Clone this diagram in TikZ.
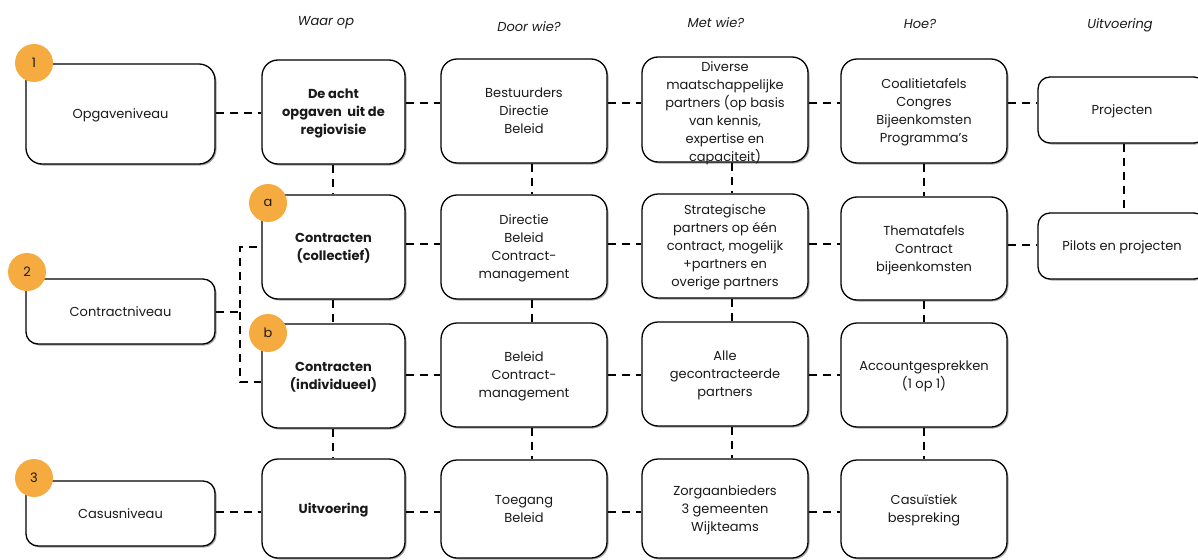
\documentclass[tikz,border=0pt]{standalone}
\usepackage{fontspec}
\setmainfont{Poppins}
\usetikzlibrary{shadows}
\definecolor{badgeor}{HTML}{F5AB3F}
\definecolor{txt}{HTML}{1A1A1A}
\begin{document}
\begin{tikzpicture}[x=1pt,y=-1pt,
  box/.style={draw=black, line width=1.3pt, rounded corners=16pt, fill=white,
    align=center, text=txt, font=\fontsize{13}{18}\selectfont, inner sep=0pt, text depth=0pt,
    drop shadow={shadow xshift=1.5pt, shadow yshift=-1.5pt, opacity=0.35, fill=black}},
  bbox/.style={box, font=\fontsize{13}{18}\selectfont\bfseries},
  conn/.style={draw=black, line width=2pt, dash pattern=on 8pt off 6pt},
  badge/.style={circle, fill=badgeor, minimum size=38pt, inner sep=0pt,
    text=txt, font=\fontsize{13}{16}\selectfont},
  hdr/.style={text=txt, font=\fontsize{13}{16}\selectfont\itshape, inner sep=0pt}]
\useasboundingbox (0,0) rectangle (1198,559);
\clip (0,0) rectangle (1198,559);

% headers
\node[hdr] (h1) at (326,23) {Waar op};
\node[hdr] (h2) at (529,27) {Door wie?};
\node[hdr] (h3) at (716,23) {Met wie?};
\node[hdr] (h4) at (920,24) {Hoe?};
\node[hdr] (h5) at (1120,25) {Uitvoering};

% column 0
\node[box, minimum width=189pt, minimum height=100pt] (op) at (120.5,114) {Opgaveniveau};
\node[box, minimum width=189pt, minimum height=65pt, rounded corners=12pt] (ct) at (120.5,311.5) {Contractniveau};
\node[box, minimum width=189pt, minimum height=65pt, rounded corners=12pt] (cs) at (120.5,513.5) {Casusniveau};

% column 1
\node[bbox, minimum width=143pt, minimum height=104pt] (r1c1) at (333.5,112) {De acht\\opgaven\ \ uit de\\regiovisie};
\node[bbox, minimum width=143pt, minimum height=104pt] (r2c1) at (333.5,247) {Contracten\\(collectief)};
\node[bbox, minimum width=143pt, minimum height=104pt] (r3c1) at (333.5,376) {Contracten\\(individueel)};
\node[bbox, minimum width=143pt, minimum height=99pt] (r4c1) at (333.5,508.5) {Uitvoering};

% column 2
\node[box, minimum width=166pt, minimum height=104pt] (r1c2) at (524,111) {Bestuurders\\Directie\\Beleid};
\node[box, minimum width=166pt, minimum height=104pt] (r2c2) at (524,247) {Directie\\Beleid\\Contract-\\management};
\node[box, minimum width=166pt, minimum height=104pt] (r3c2) at (524,375) {Beleid\\Contract-\\management};
\node[box, minimum width=166pt, minimum height=98pt] (r4c2) at (524,509) {Toegang\\Beleid};

% column 3
\node[box, minimum width=166pt, minimum height=105pt] (r1c3) at (725,109.5) {};
\node[align=center, text=txt, font=\fontsize{13}{18}\selectfont, inner sep=0pt, text depth=0pt] (t13) at (725,112) {Diverse\\maatschappelijke\\partners (op basis\\van kennis,\\expertise en\\capaciteit)};
\node[box, minimum width=166pt, minimum height=104pt] (r2c3) at (725,246) {Strategische\\partners op één\\contract, mogelijk\\+partners en\\overige partners};
\node[box, minimum width=166pt, minimum height=104pt] (r3c3) at (725,374) {Alle\\gecontracteerde\\partners};
\node[box, minimum width=166pt, minimum height=99pt] (r4c3) at (725,508.5) {Zorgaanbieders\\3 gemeenten\\Wijkteams};

% column 4
\node[box, minimum width=166pt, minimum height=104pt] (r1c4) at (924,111) {Coalitietafels\\Congres\\Bijeenkomsten\\Programma’s};
\node[box, minimum width=166pt, minimum height=103pt] (r2c4) at (924,248.5) {Thematafels\\Contract\\bijeenkomsten};
\node[box, minimum width=166pt, minimum height=104pt] (r3c4) at (924,375) {Accountgesprekken\\(1 op 1)};
\node[box, minimum width=166pt, minimum height=98pt] (r4c4) at (924,509) {Casuïstiek\\bespreking};

% column 5
\node[box, minimum width=168pt, minimum height=66pt, rounded corners=12pt] (r1c5) at (1122,110) {Projecten};
\node[box, minimum width=168pt, minimum height=66pt, rounded corners=12pt] (r2c5) at (1122,246) {Pilots en projecten};

% horizontal connectors
\draw[conn] ([yshift=1pt]op.east) -- ([yshift=1pt]op.east -| r1c1.west);
\draw[conn] ([yshift=9pt]r1c1.east) -- ([yshift=9pt]r1c1.east -| r1c2.west);
\draw[conn] ([yshift=8pt]r1c2.east) -- ([yshift=8pt]r1c2.east -| r1c3.west);
\draw[conn] ([yshift=6.5pt]r1c3.east) -- ([yshift=6.5pt]r1c3.east -| r1c4.west);
\draw[conn] ([yshift=8pt]r1c4.east) -- ([yshift=8pt]r1c4.east -| r1c5.west);

\draw[conn] ([yshift=3pt]r2c1.east) -- ([yshift=3pt]r2c1.east -| r2c2.west);
\draw[conn] ([yshift=3pt]r2c2.east) -- ([yshift=3pt]r2c2.east -| r2c3.west);
\draw[conn] ([yshift=2pt]r2c3.east) -- ([yshift=2pt]r2c3.east -| r2c4.west);
\draw[conn] ([yshift=3.5pt]r2c4.east) -- ([yshift=3.5pt]r2c4.east -| r2c5.west);

\draw[conn] ([yshift=1pt]r3c1.east) -- ([yshift=1pt]r3c1.east -| r3c2.west);
\draw[conn] (r3c2.east) -- (r3c2.east -| r3c3.west);
\draw[conn] ([yshift=-1pt]r3c3.east) -- ([yshift=-1pt]r3c3.east -| r3c4.west);

\draw[conn] ([yshift=1.5pt]cs.east) -- ([yshift=1.5pt]cs.east -| r4c1.west);
\draw[conn] ([yshift=-3.5pt]r4c1.east) -- ([yshift=-3.5pt]r4c1.east -| r4c2.west);
\draw[conn] ([yshift=-3pt]r4c2.east) -- ([yshift=-3pt]r4c2.east -| r4c3.west);
\draw[conn] ([yshift=-3.5pt]r4c3.east) -- ([yshift=-3.5pt]r4c3.east -| r4c4.west);

% bracket from Contractniveau
\draw[conn] ([yshift=-0.5pt]ct.east) -- ++(24,0) coordinate (br) |- (r2c1.west);
\draw[conn] (br) |- ([yshift=-6pt]r3c1.west);

% vertical connectors
\draw[conn] ([xshift=-0.5pt]r1c1.south) -- ([xshift=-0.5pt]r2c1.north);
\draw[conn] ([xshift=-0.5pt]r2c1.south) -- ([xshift=-0.5pt]r3c1.north);
\draw[conn] ([xshift=-0.5pt]r3c1.south) -- ([xshift=-0.5pt]r4c1.north);
\draw[conn] ([xshift=8pt]r1c2.south) -- ([xshift=8pt]r2c2.north);
\draw[conn] ([xshift=8pt]r2c2.south) -- ([xshift=8pt]r3c2.north);
\draw[conn] ([xshift=8pt]r3c2.south) -- ([xshift=8pt]r4c2.north);
\draw[conn] ([xshift=7pt]r1c3.south) -- ([xshift=7pt]r2c3.north);
\draw[conn] ([xshift=7pt]r2c3.south) -- ([xshift=7pt]r3c3.north);
\draw[conn] ([xshift=7pt]r3c3.south) -- ([xshift=7pt]r4c3.north);
\draw[conn] (r1c4.south) -- (r2c4.north);
\draw[conn] (r2c4.south) -- (r3c4.north);
\draw[conn] (r3c4.south) -- (r4c4.north);
\draw[conn] ([xshift=2pt]r1c5.south) -- ([xshift=2pt]r2c5.north);

% badges
\node[badge] (b1) at (34,63) {1};
\node[badge] (b2) at (27,272) {2};
\node[badge] (b3) at (34,478) {3};
\node[badge] (ba) at (268,203) {a};
\node[badge] (bb) at (268,333) {b};
\end{tikzpicture}
\end{document}
